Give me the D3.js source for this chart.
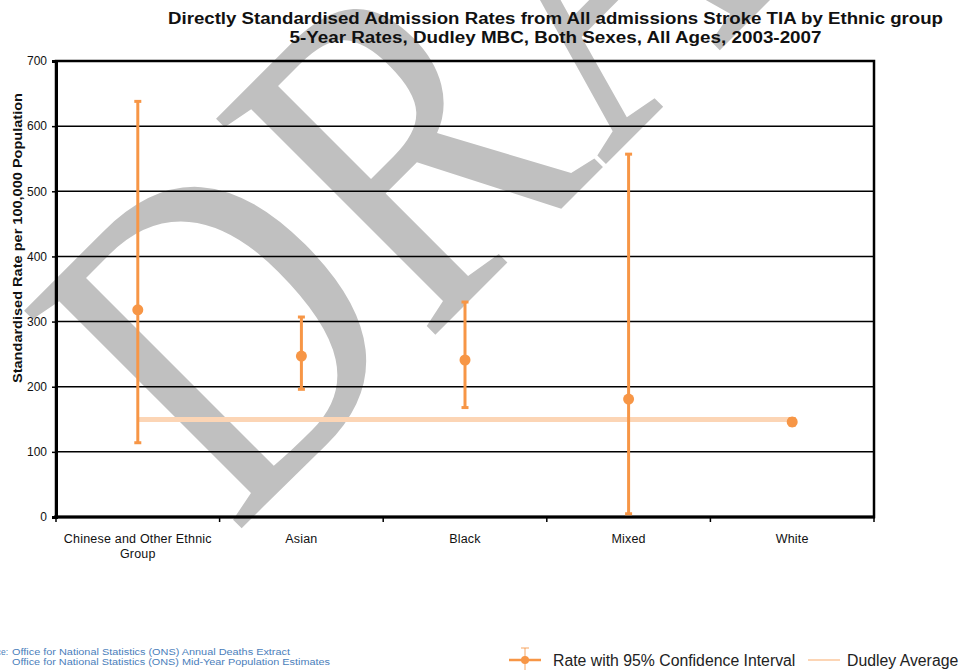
<!DOCTYPE html>
<html>
<head>
<meta charset="utf-8">
<script src="https://cdn.jsdelivr.net/npm/d3@7"></script>
<style>
  html, body { margin: 0; padding: 0; background: #fff; }
  svg { display: block; }
  .watermark { font-family: "Liberation Serif", "Times New Roman", "DejaVu Serif", serif; }
</style>
</head>
<body>
<svg id="chart" width="961" height="670"></svg>
<script>
// Ethnic groups on the x axis
const categories = ["Chinese and Other Ethnic Group", "Asian", "Black", "Mixed", "White"];
// Directly standardised rate per 100,000 with 95% confidence limits
const rates = [318, 247, 241, 181, 146];
const lowerCI = [114, 196, 168, 5, 141];
const upperCI = [638, 307, 330, 557, 151];
// Dudley average rate
const dudleyAverage = 149.5;
// Y axis ticks
const yTicks = [0, 100, 200, 300, 400, 500, 600, 700];

const titleLines = [
  "Directly Standardised Admission Rates from All admissions Stroke TIA by Ethnic group",
  "5-Year Rates, Dudley MBC, Both Sexes, All Ages, 2003-2007"
];
const sourceLines = [
  "Office for National Statistics (ONS) Annual Deaths Extract",
  "Office for National Statistics (ONS) Mid-Year Population Estimates"
];

const orange = "#f79646";
const peach = "#fcd5b5";
const sans = "Liberation Sans, Arial, sans-serif";

const svg = d3.select("#chart");
const margin = { left: 56, right: 874, top: 61, bottom: 517 };

const x = d3.scaleBand().domain(categories).range([margin.left, margin.right]).padding(0);
const y = d3.scaleLinear().domain([0, 700]).range([margin.bottom, margin.top]);

// Watermark behind the chart
svg.append("text")
  .attr("class", "watermark")
  .attr("transform", "translate(234,536) rotate(-45) scale(0.8,1)")
  .attr("font-size", 470)
  .attr("fill", "#c0c0c0")
  .text("DRAFT");

// Gridlines
svg.append("g")
  .selectAll("line")
  .data(yTicks.filter(d => d > 0 && d < 700))
  .join("line")
  .attr("x1", margin.left).attr("x2", margin.right)
  .attr("y1", d => y(d)).attr("y2", d => y(d))
  .attr("stroke", "#000").attr("stroke-width", 1.5);

// Plot border
svg.append("rect")
  .attr("x", margin.left).attr("y", margin.top)
  .attr("width", margin.right - margin.left)
  .attr("height", margin.bottom - margin.top)
  .attr("fill", "none").attr("stroke", "#000").attr("stroke-width", 2.5);

// Y axis
const yAxis = svg.append("g")
  .attr("transform", `translate(${margin.left},0)`)
  .call(d3.axisLeft(y).tickValues(yTicks).tickSize(4).tickPadding(5));
yAxis.select(".domain").attr("stroke", "#000").attr("stroke-width", 3);
yAxis.selectAll(".tick line").attr("stroke", "#000").attr("stroke-width", 1.5);
yAxis.selectAll(".tick text")
  .attr("font-family", sans)
  .attr("font-size", 12).attr("fill", "#111");

// X axis with ticks at band boundaries
const xAxis = svg.append("g")
  .attr("transform", `translate(0,${margin.bottom})`);
xAxis.append("line")
  .attr("x1", margin.left - 2).attr("x2", margin.right + 1)
  .attr("y1", 0).attr("y2", 0)
  .attr("stroke", "#000").attr("stroke-width", 3);
const bounds = categories.map(c => x(c)).concat([margin.right]);
xAxis.selectAll("line.tick")
  .data(bounds)
  .join("line").attr("class", "tick")
  .attr("x1", d => d).attr("x2", d => d)
  .attr("y1", 0).attr("y2", 5)
  .attr("stroke", "#000").attr("stroke-width", 1.5);

// Category labels (wrapped)
const wrapped = {
  "Chinese and Other Ethnic Group": ["Chinese and Other Ethnic", "Group"]
};
const labelG = svg.append("g")
  .attr("font-family", sans)
  .attr("font-size", 12.5).attr("letter-spacing", 0.2)
  .attr("fill", "#111").attr("text-anchor", "middle");
categories.forEach(c => {
  const lines = wrapped[c] || [c];
  const t = labelG.append("text")
    .attr("x", x(c) + x.bandwidth() / 2)
    .attr("y", 543);
  lines.forEach((l, i) => {
    t.append("tspan")
      .attr("x", x(c) + x.bandwidth() / 2)
      .attr("dy", i === 0 ? 0 : 14.5)
      .text(l);
  });
});

// Y axis title
svg.append("text")
  .attr("transform", "translate(22,238) rotate(-90)")
  .attr("text-anchor", "middle")
  .attr("font-family", sans)
  .attr("font-weight", "bold")
  .attr("font-size", 13.5).attr("fill", "#111")
  .attr("textLength", 290)
  .attr("lengthAdjust", "spacingAndGlyphs")
  .text("Standardised Rate per 100,000 Population");

// Title
const titleWidths = [775, 532];
titleLines.forEach((t, i) => {
  svg.append("text")
    .attr("x", 555.5).attr("y", 24 + i * 19)
    .attr("text-anchor", "middle")
    .attr("font-family", sans)
    .attr("font-weight", "bold")
    .attr("font-size", 16).attr("fill", "#111")
    .attr("textLength", titleWidths[i])
    .attr("lengthAdjust", "spacingAndGlyphs")
    .text(t);
});

// Dudley average line
const cx = c => x(c) + x.bandwidth() / 2;
svg.append("line")
  .attr("x1", cx(categories[0])).attr("x2", cx(categories[categories.length - 1]))
  .attr("y1", y(dudleyAverage)).attr("y2", y(dudleyAverage))
  .attr("stroke", peach).attr("stroke-width", 5);

// Error bars and points
const eb = svg.append("g");
categories.forEach((c, i) => {
  const px = cx(c);
  eb.append("line")
    .attr("x1", px).attr("x2", px)
    .attr("y1", y(lowerCI[i])).attr("y2", y(upperCI[i]))
    .attr("stroke", orange).attr("stroke-width", 3);
  [lowerCI[i], upperCI[i]].forEach(v => {
    eb.append("line")
      .attr("x1", px - 3.5).attr("x2", px + 3.5)
      .attr("y1", y(v)).attr("y2", y(v))
      .attr("stroke", orange).attr("stroke-width", 3);
  });
  eb.append("circle")
    .attr("cx", px).attr("cy", y(rates[i]))
    .attr("r", 5.5).attr("fill", orange);
});

// Source note
const src = svg.append("g")
  .attr("font-family", sans)
  .attr("font-size", 8.5).attr("fill", "#4a7ebb");
src.append("text").attr("x", 8).attr("y", 655).attr("text-anchor", "end").text("Source:");
const srcWidths = [278, 318];
sourceLines.forEach((s, i) => {
  src.append("text").attr("x", 12).attr("y", 655 + i * 9.5)
    .attr("textLength", srcWidths[i])
    .attr("lengthAdjust", "spacingAndGlyphs")
    .text(s);
});

// Legend
const lg = svg.append("g");
lg.append("line").attr("x1", 509).attr("x2", 541).attr("y1", 660).attr("y2", 660)
  .attr("stroke", orange).attr("stroke-width", 2.5);
lg.append("line").attr("x1", 525).attr("x2", 525).attr("y1", 648).attr("y2", 670)
  .attr("stroke", orange).attr("stroke-width", 1.2).attr("opacity", 0.7);
lg.append("line").attr("x1", 521).attr("x2", 529).attr("y1", 648).attr("y2", 648)
  .attr("stroke", orange).attr("stroke-width", 1.2).attr("opacity", 0.7);
lg.append("circle").attr("cx", 525).attr("cy", 660).attr("r", 4).attr("fill", orange);
lg.append("text").attr("x", 553).attr("y", 665.5)
  .attr("font-family", sans)
  .attr("font-size", 15.8).attr("fill", "#222")
  .text("Rate with 95% Confidence Interval");
lg.append("line").attr("x1", 808).attr("x2", 840).attr("y1", 660).attr("y2", 660)
  .attr("stroke", peach).attr("stroke-width", 2);
lg.append("text").attr("x", 847).attr("y", 665.5)
  .attr("font-family", sans)
  .attr("font-size", 15.8).attr("fill", "#222")
  .text("Dudley Average");
</script>
</body>
</html>
